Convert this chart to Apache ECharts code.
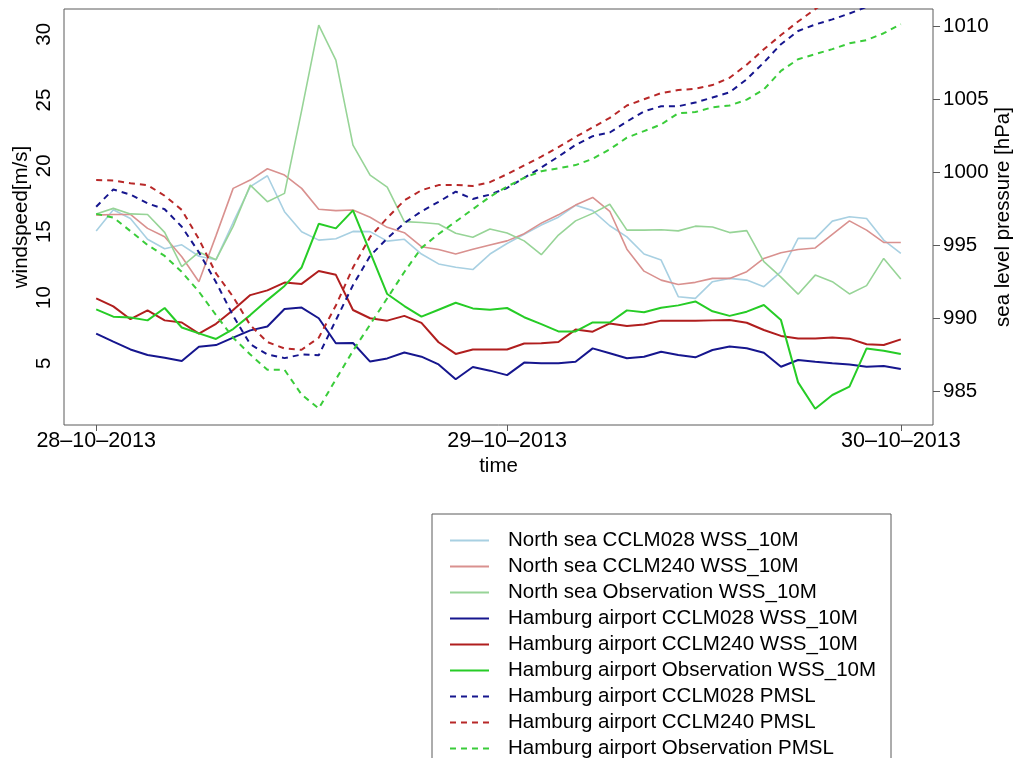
<!DOCTYPE html>
<html>
<head>
<meta charset="utf-8">
<title>Windspeed and sea level pressure, 28-30 Oct 2013</title>
<script src="https://cdn.jsdelivr.net/npm/echarts@6/dist/echarts.min.js"></script>
<style>
  html, body { margin: 0; padding: 0; background: #ffffff; }
  #chart { width: 1014px; height: 758px; }
</style>
</head>
<body>
<div id="chart"></div>
<script>
// Hourly samples, index 0 = 28-10-2013 00:00 ... index 47 = 30-10-2013
const hourIndex = Array.from({ length: 48 }, (_, i) => i);

const dayTickHours = [0, 24, 47];
const dayLabels = ['28–10–2013', '29–10–2013', '30–10–2013'];
const windTicks = [5, 10, 15, 20, 25, 30];
const pressureTicks = [985, 990, 995, 1000, 1005, 1010];

// 10 m wind speed [m/s]
const northSeaCCLM028 = [15.05, 16.66, 16.0, 14.42, 13.7, 14.0, 13.13, 12.87, 15.7, 18.42, 19.25, 16.52, 15.0, 14.36, 14.46, 15.02,
  15.0, 14.28, 14.42, 13.3, 12.55, 12.3, 12.12, 13.3, 14.1, 14.8, 15.5, 16.1, 17.0, 16.6, 15.45, 14.6,
  13.3, 12.84, 10.06, 9.93, 11.2, 11.45, 11.32, 10.82, 11.96, 14.49, 14.49, 15.8, 16.14, 16.0, 14.36, 13.35];
const northSeaCCLM240 = [16.26, 16.31, 16.31, 15.25, 14.62, 13.1, 11.2, 14.7, 18.29, 18.92, 19.78, 19.3, 18.29, 16.7, 16.6, 16.65,
  16.1, 15.33, 14.92, 13.86, 13.65, 13.3, 13.66, 13.98, 14.3, 14.85, 15.65, 16.28, 17.02, 17.6, 16.55, 13.67,
  12.0, 11.32, 10.99, 11.15, 11.45, 11.45, 11.96, 12.97, 13.4, 13.65, 13.76, 14.8, 15.82, 15.12, 14.18, 14.18];
const northSeaObs = [16.35, 16.77, 16.35, 16.3, 14.95, 12.34, 13.45, 12.87, 15.4, 18.54, 17.28, 17.91, 24.2, 30.7, 28.04, 21.58,
  19.3, 18.38, 15.76, 15.7, 15.58, 14.88, 14.57, 15.2, 14.9, 14.3, 13.25, 14.74, 15.82, 16.39, 17.08, 15.12,
  15.12, 15.15, 15.06, 15.42, 15.35, 14.93, 15.08, 12.72, 11.55, 10.25, 11.7, 11.2, 10.27, 10.9, 12.97, 11.4];
const hamburgCCLM028 = [7.25, 6.64, 6.05, 5.63, 5.42, 5.17, 6.26, 6.38, 6.95, 7.5, 7.8, 9.12, 9.23, 8.42, 6.52, 6.54,
  5.13, 5.37, 5.82, 5.5, 4.91, 3.79, 4.72, 4.44, 4.1, 5.05, 5.0, 5.0, 5.12, 6.13, 5.76, 5.38,
  5.5, 5.88, 5.63, 5.45, 6.01, 6.27, 6.14, 5.8, 4.74, 5.25, 5.12, 5.0, 4.9, 4.74, 4.79, 4.56];
const hamburgCCLM240 = [9.93, 9.32, 8.35, 9.02, 8.26, 8.1, 7.25, 8.0, 9.05, 10.18, 10.54, 11.13, 11.03, 12.01, 11.72, 9.05,
  8.42, 8.24, 8.6, 8.07, 6.6, 5.71, 6.05, 6.05, 6.05, 6.5, 6.52, 6.62, 7.56, 7.4, 8.03, 7.83,
  7.95, 8.24, 8.24, 8.24, 8.26, 8.28, 8.08, 7.53, 7.08, 6.89, 6.89, 6.95, 6.87, 6.45, 6.39, 6.82];
const hamburgObs = [9.1, 8.54, 8.47, 8.26, 9.2, 7.72, 7.27, 6.85, 7.6, 8.66, 9.8, 10.88, 12.28, 15.6, 15.25, 16.62,
  13.45, 10.26, 9.35, 8.54, 9.07, 9.6, 9.17, 9.06, 9.2, 8.5, 7.97, 7.42, 7.42, 8.1, 8.1, 9.02,
  8.88, 9.22, 9.4, 9.7, 8.95, 8.6, 8.92, 9.43, 8.28, 3.55, 1.55, 2.59, 3.22, 6.13, 5.95, 5.7];

// Mean sea level pressure at Hamburg airport [hPa]
const pmslCCLM028 = [997.67, 998.85, 998.5, 997.9, 997.5, 996.3, 994.55, 992.5, 990.2, 988.25, 987.55, 987.3, 987.55, 987.5, 989.9, 992.3,
  994.3, 995.5, 996.55, 997.35, 998.0, 998.7, 998.2, 998.5, 998.95, 999.65, 1000.35, 1001.1, 1001.9, 1002.5, 1002.75, 1003.5,
  1004.2, 1004.55, 1004.55, 1004.8, 1005.15, 1005.5, 1006.4, 1007.55, 1008.8, 1009.7, 1010.15, 1010.5, 1010.9, 1011.35, 1011.8, 1012.2];
const pmslCCLM240 = [999.5, 999.47, 999.27, 999.15, 998.42, 997.45, 995.45, 993.1, 991.5, 989.56, 988.4, 987.96, 987.87, 988.7, 990.9, 993.5,
  995.6, 996.9, 998.1, 998.8, 999.15, 999.16, 999.09, 999.35, 999.9, 1000.5, 1001.1, 1001.75, 1002.45, 1003.1, 1003.75, 1004.6,
  1005.03, 1005.45, 1005.66, 1005.75, 1006.0, 1006.5, 1007.4, 1008.45, 1009.43, 1010.35, 1011.2, 1012.0, 1012.6, 1013.1, 1013.5, 1013.9];
const pmslObs = [997.18, 996.93, 996.0, 995.05, 994.3, 993.2, 991.85, 990.25, 988.7, 987.55, 986.5, 986.5, 984.8, 983.85, 985.85, 987.8,
  989.6, 991.4, 993.2, 994.85, 995.8, 996.65, 997.5, 998.35, 999.05, 999.65, 1000.1, 1000.3, 1000.52, 1000.95, 1001.6, 1002.4,
  1002.85, 1003.3, 1004.07, 1004.15, 1004.48, 1004.6, 1005.0, 1005.7, 1006.97, 1007.77, 1008.12, 1008.46, 1008.86, 1009.08, 1009.55, 1010.17];

const FONT = 'Liberation Sans, Arial, Helvetica, sans-serif';
const FS = 20.5;

function pairs(values) {
  return hourIndex.map((h, i) => [h, values[i]]);
}

function lineSeries(name, values, color, width, dashed, yAxisIndex) {
  return {
    name: name,
    type: 'line',
    yAxisIndex: yAxisIndex,
    data: pairs(values),
    symbol: 'none',
    showSymbol: false,
    clip: true,
    silent: true,
    lineStyle: { color: color, width: width, type: dashed ? [6, 5] : 'solid' },
    itemStyle: { color: color }
  };
}

const seriesList = [
  lineSeries('North sea CCLM028 WSS_10M', northSeaCCLM028, '#a8d0e2', 1.6, false, 0),
  lineSeries('North sea CCLM240 WSS_10M', northSeaCCLM240, '#d9918f', 1.6, false, 0),
  lineSeries('North sea Observation WSS_10M', northSeaObs, '#97d497', 1.6, false, 0),
  lineSeries('Hamburg airport CCLM028 WSS_10M', hamburgCCLM028, '#16168e', 2, false, 0),
  lineSeries('Hamburg airport CCLM240 WSS_10M', hamburgCCLM240, '#b01e1e', 2, false, 0),
  lineSeries('Hamburg airport Observation WSS_10M', hamburgObs, '#26cc26', 2, false, 0),
  lineSeries('Hamburg airport CCLM028 PMSL', pmslCCLM028, '#16168e', 2, true, 1),
  lineSeries('Hamburg airport CCLM240 PMSL', pmslCCLM240, '#b82828', 2, true, 1),
  lineSeries('Hamburg airport Observation PMSL', pmslObs, '#3acc3a', 2, true, 1)
];

const chart = echarts.init(document.getElementById('chart'), null, { renderer: 'canvas' });

chart.setOption({
  animation: false,
  backgroundColor: '#ffffff',
  textStyle: { fontFamily: FONT },
  grid: {
    left: 64, top: 9, right: 81, bottom: 333,
    outerBoundsMode: 'none',
    containLabel: false,
    show: true, borderColor: '#5a5a5a', borderWidth: 1, backgroundColor: 'transparent'
  },
  xAxis: {
    type: 'value',
    min: -1.88, max: 48.88,
    name: 'time',
    nameLocation: 'middle',
    nameGap: 31,
    nameMoveOverlap: false,
    nameTextStyle: { fontSize: FS, color: '#000', fontFamily: FONT },
    axisLine: { show: false },
    splitLine: { show: false },
    axisTick: {
      show: true, length: 6, inside: false,
      customValues: dayTickHours,
      lineStyle: { color: '#5a5a5a', width: 1 }
    },
    axisLabel: {
      show: true, margin: 5,
      customValues: dayTickHours,
      fontSize: 21.5, color: '#000', fontFamily: FONT,
      formatter: function (v) {
        const k = dayTickHours.indexOf(Math.round(v));
        return k >= 0 ? dayLabels[k] : '';
      }
    }
  },
  yAxis: [
    {
      type: 'value',
      position: 'left',
      min: 0.31, max: 31.92,
      name: 'windspeed[m/s]',
      nameLocation: 'middle',
      nameRotate: 90,
      nameGap: 32,
      nameMoveOverlap: false,
      nameTextStyle: { fontSize: FS, color: '#000', fontFamily: FONT },
      axisLine: { show: false },
      splitLine: { show: false },
      axisTick: { show: false, customValues: windTicks },
      axisLabel: {
        show: true, rotate: 90, margin: 9,
        customValues: windTicks,
        fontSize: FS, color: '#000', fontFamily: FONT,
        formatter: function (v) { return String(v); }
      }
    },
    {
      type: 'value',
      position: 'right',
      min: 982.72, max: 1011.21,
      name: 'sea level pressure [hPa]',
      nameLocation: 'middle',
      nameRotate: 90,
      nameGap: 60,
      nameMoveOverlap: false,
      nameTextStyle: { fontSize: FS, color: '#000', fontFamily: FONT },
      axisLine: { show: false },
      splitLine: { show: false },
      axisTick: {
        show: true, length: 7, inside: false,
        customValues: pressureTicks,
        lineStyle: { color: '#5a5a5a', width: 1 }
      },
      axisLabel: {
        show: true, margin: 10,
        customValues: pressureTicks,
        fontSize: FS, color: '#000', fontFamily: FONT,
        formatter: function (v) { return String(v); }
      }
    }
  ],
  legend: {
    orient: 'vertical',
    left: 432,
    top: 514,
    height: 300,
    padding: [16, 15, 40, 17],
    itemGap: 5,
    itemWidth: 39,
    itemHeight: 20,
    borderColor: '#5a5a5a',
    borderWidth: 1,
    backgroundColor: '#ffffff',
    selectedMode: false,
    itemStyle: { opacity: 0, borderWidth: 0 },
    textStyle: { fontSize: FS, color: '#000', fontFamily: FONT, padding: [0, 0, 0, 14], lineHeight: 20 },
    data: seriesList.map(s => s.name)
  },
  series: seriesList
});
</script>
</body>
</html>
